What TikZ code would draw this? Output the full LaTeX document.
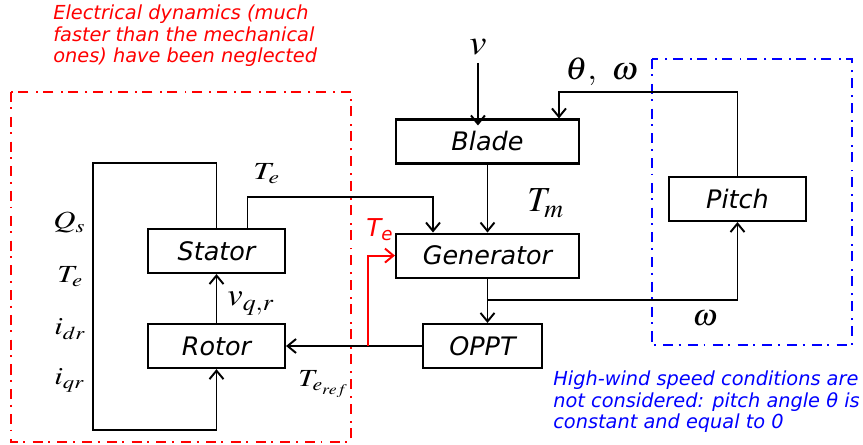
\documentclass[tikz,border=0pt]{standalone}
\usepackage{mathptmx}
\usepackage{fontspec}
\setsansfont{DejaVu Sans}
\usetikzlibrary{positioning, arrows.meta}
\tikzset{
  block/.style={rectangle, draw=black, line width=1.2pt, minimum height=0.88cm, align=center, inner sep=0pt, font=\fontsize{14.5}{17}\selectfont\sffamily\itshape},
  arrow/.style={line width=1.1pt, -{Straight Barb[length=1.7mm,width=2.8mm,line width=1.1pt]}},
  sig/.style={anchor=base west, inner sep=0pt},
  region/.style={line width=1.1pt, dash pattern=on 5.7pt off 3.1pt on 1.1pt off 4.2pt},
  note/.style={anchor=base west, align=left, inner sep=0pt, font=\fontsize{11}{12.4}\selectfont\sffamily\itshape}
}
% ecuacion escalada: tamano, ancho, formula
\newcommand{\eqlabel}[3]{\fontsize{#1}{#1}\selectfont\scalebox{#2}[1]{$#3$}}

\begin{document}
\begin{tikzpicture}[x=0.02cm, y=-0.02cm]
    \useasboundingbox (0,0) rectangle (863,445);

    % Regiones
    \draw[region, red] (11,92) rectangle (351,442);
    \draw[region, blue] (652,59) rectangle (852,345);
    \node[note, text=red] (elecnote) at (53,63) {Electrical dynamics (much\\faster than the mechanical\\ones) have been neglected};
    \node[note, text=blue] (windnote) at (553,429) {High-wind speed conditions are\\not considered: pitch angle θ is\\constant and equal to 0};

    % Bloques
    \node[block, minimum width=3.66cm] (blade) at (487.5,141.5) {Blade};
    \node[block, minimum width=3.66cm, below=1.36cm of blade] (gen) {Generator};
    \node[block, minimum width=2.38cm] (oppt) at (482.5,346) {OPPT};
    \node[block, minimum width=2.74cm] (pitch) at (737.5,199) {Pitch};
    \node[block, minimum width=2.74cm] (stator) at (216.5,251) {Stator};
    \node[block, minimum width=2.74cm, below=0.98cm of stator] (rotor) {Rotor};

    % Senales
    \node[sig] (vin) at (469,55) {\eqlabel{20}{1.1}{v}};
    \node[sig] (thw) at (565,80) {\eqlabel{18}{1.1}{\theta,\ \omega}};
    \node[sig] (tm) at (527,212) {\eqlabel{20}{1}{T_m}};
    \node[sig] (wout) at (692,326) {\eqlabel{17}{1.1}{\omega}};
    \node[sig] (tetop) at (253,180) {\eqlabel{14}{1.3}{T_e}};
    \node[sig] (vqr) at (227,306) {\eqlabel{18}{1.1}{v_{q,r}}};
    \node[sig] (teref) at (298,387) {\eqlabel{14}{1.2}{T_{e_{ref}}}};
    \node[sig] (qs) at (53,229) {\eqlabel{14}{1.25}{Q_s}};
    \node[sig] (teleft) at (57,283) {\eqlabel{14}{1.25}{T_e}};
    \node[sig] (idr) at (54,335) {\eqlabel{14}{1.25}{i_{dr}}};
    \node[sig] (iqr) at (54,385) {\eqlabel{14}{1.25}{i_{qr}}};
    \node[sig, text=red, font=\fontsize{14}{16}\selectfont\sffamily\itshape] (tered) at (366,237) {T\textsubscript{e}};

    \coordinate (fbtop) at (93,163);
    \coordinate (fbbot) at (93,430);

    % Flujo principal
    \draw[arrow] ([yshift=-4pt]vin.south) -- ([yshift=-4pt]vin.south |- blade.north);
    \draw[arrow] (blade) -- (gen);
    \draw[arrow] (gen.south) -- (gen.south |- oppt.north);
    \draw[arrow] (oppt.west) -- (oppt.west -| rotor.east);
    \draw[arrow] (rotor) -- (stator);

    % Lazo del estator
    \draw[arrow] (stator.north) |- (fbtop) -- (fbbot) -| (rotor.south);
    \draw[arrow] ([xshift=0.62cm]stator.north) -- ++(0,-31) -| ([xshift=-1.09cm]gen.north);

    % Pitch
    \path (gen.south) ++(0,21) coordinate (wsplit);
    \draw[arrow] (wsplit) -| (pitch.south);
    \draw[arrow] (pitch.north) -- ++(0,-84) -| ([xshift=1.43cm]blade.north);

    % Par electrico
    \path (oppt.west) ++(-54,0) coordinate (tesplit);
    \draw[arrow, red] (tesplit) |- (gen.west);

\end{tikzpicture}
\end{document}
